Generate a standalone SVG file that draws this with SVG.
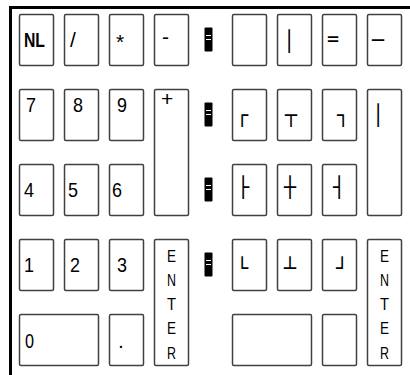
<svg xmlns="http://www.w3.org/2000/svg" width="410" height="375" viewBox="0 0 410 375">
<style>
.k{fill:#fff;stroke:#404040;stroke-width:1.5}
.t{font-family:"Liberation Sans",Arial,sans-serif;font-size:21px;fill:#000}
.b{font-family:"DejaVu Sans Mono","Liberation Mono",monospace;font-size:20px;fill:#000}
.e{font-family:"Liberation Sans",Arial,sans-serif;font-size:17px;fill:#000;text-anchor:middle}
.blk{fill:#000}
.wl{stroke:#fff;stroke-width:1}
</style>
<rect width="410" height="375" fill="#fff"/>
<g id="frame" stroke="#000" stroke-width="3">
<line x1="9" y1="7.5" x2="410" y2="7.5"/>
<line x1="10.5" y1="6" x2="10.5" y2="375"/>
</g>
<g id="connectors"></g>
<g id="key-nl"><rect class="k" x="19.5" y="14.5" width="34" height="51" rx="1.5"/><text class="t" x="24" y="47" font-size="20" font-weight="bold" textLength="21" lengthAdjust="spacingAndGlyphs">NL</text></g>
<g id="key-div"><rect class="k" x="64.5" y="14.5" width="34" height="51" rx="1.5"/><text class="t" x="70" y="47">/</text></g>
<g id="key-mul"><rect class="k" x="109.5" y="14.5" width="34" height="51" rx="1.5"/><text class="t" x="116" y="49">*</text></g>
<g id="key-sub"><rect class="k" x="154.5" y="14.5" width="34" height="51" rx="1.5"/><text class="t" x="162" y="44">-</text></g>
<g id="key-7"><rect class="k" x="19.5" y="89.5" width="34" height="51" rx="1.5"/><text class="t" x="26" y="112" textLength="10" lengthAdjust="spacingAndGlyphs">7</text></g>
<g id="key-8"><rect class="k" x="64.5" y="89.5" width="34" height="51" rx="1.5"/><text class="t" x="73" y="112" textLength="10" lengthAdjust="spacingAndGlyphs">8</text></g>
<g id="key-9"><rect class="k" x="109.5" y="89.5" width="34" height="51" rx="1.5"/><text class="t" x="117" y="112" textLength="10" lengthAdjust="spacingAndGlyphs">9</text></g>
<g id="key-add"><rect class="k" x="154.5" y="89.5" width="34" height="126" rx="1.5"/><text class="t" x="161" y="106" font-size="14">+</text></g>
<g id="key-4"><rect class="k" x="19.5" y="164.5" width="34" height="51" rx="1.5"/><text class="t" x="24" y="197" textLength="10" lengthAdjust="spacingAndGlyphs">4</text></g>
<g id="key-5"><rect class="k" x="64.5" y="164.5" width="34" height="51" rx="1.5"/><text class="t" x="68" y="197" textLength="10" lengthAdjust="spacingAndGlyphs">5</text></g>
<g id="key-6"><rect class="k" x="109.5" y="164.5" width="34" height="51" rx="1.5"/><text class="t" x="112" y="197" textLength="10" lengthAdjust="spacingAndGlyphs">6</text></g>
<g id="key-1"><rect class="k" x="19.5" y="239.5" width="34" height="51" rx="1.5"/><text class="t" x="24" y="272" textLength="10" lengthAdjust="spacingAndGlyphs">1</text></g>
<g id="key-2"><rect class="k" x="64.5" y="239.5" width="34" height="51" rx="1.5"/><text class="t" x="70" y="272" textLength="10" lengthAdjust="spacingAndGlyphs">2</text></g>
<g id="key-3"><rect class="k" x="109.5" y="239.5" width="34" height="51" rx="1.5"/><text class="t" x="117" y="272" textLength="10" lengthAdjust="spacingAndGlyphs">3</text></g>
<g id="key-enter-l"><rect class="k" x="154.5" y="239.5" width="34" height="126" rx="1.5"/><text class="e" x="171.5" y="262" textLength="9" lengthAdjust="spacingAndGlyphs">E</text><text class="e" x="171.5" y="286" textLength="9" lengthAdjust="spacingAndGlyphs">N</text><text class="e" x="171.5" y="310" textLength="9" lengthAdjust="spacingAndGlyphs">T</text><text class="e" x="171.5" y="334" textLength="9" lengthAdjust="spacingAndGlyphs">E</text><text class="e" x="171.5" y="359" textLength="9" lengthAdjust="spacingAndGlyphs">R</text></g>
<g id="key-0"><rect class="k" x="19.5" y="314.5" width="79" height="51" rx="1.5"/><text class="t" x="25" y="348" textLength="9" lengthAdjust="spacingAndGlyphs">0</text></g>
<g id="key-dot"><rect class="k" x="109.5" y="314.5" width="34" height="51" rx="1.5"/><text class="t" x="118" y="348">.</text></g>

<g id="sep-1"><rect class="blk" x="204.5" y="27.5" width="8" height="24" rx="1"/><line class="wl" x1="206" y1="35.5" x2="211" y2="35.5"/><line class="wl" x1="206" y1="39.5" x2="211" y2="39.5"/></g>
<g id="sep-2"><rect class="blk" x="204.5" y="102.5" width="8" height="24" rx="1"/><line class="wl" x1="206" y1="110.5" x2="211" y2="110.5"/><line class="wl" x1="206" y1="114.5" x2="211" y2="114.5"/></g>
<g id="sep-3"><rect class="blk" x="204.5" y="177.5" width="8" height="24" rx="1"/><line class="wl" x1="206" y1="185.5" x2="211" y2="185.5"/><line class="wl" x1="206" y1="189.5" x2="211" y2="189.5"/></g>
<g id="sep-4"><rect class="blk" x="204.5" y="252.5" width="8" height="24" rx="1"/><line class="wl" x1="206" y1="260.5" x2="211" y2="260.5"/><line class="wl" x1="206" y1="264.5" x2="211" y2="264.5"/></g>

<g id="key-r11"><rect class="k" x="232.5" y="14.5" width="34" height="51" rx="1.5"/></g>
<g id="key-r12"><rect class="k" x="277.5" y="14.5" width="34" height="51" rx="1.5"/><text class="b" x="283" y="48" font-size="17">│</text></g>
<g id="key-r13"><rect class="k" x="322.5" y="14.5" width="34" height="51" rx="1.5"/><text class="b" x="327" y="45" font-size="14">=</text></g>
<g id="key-r14"><rect class="k" x="367.5" y="14.5" width="34" height="51" rx="1.5"/><text class="b" x="372" y="47">─</text></g>
<g id="key-r21"><rect class="k" x="232.5" y="89.5" width="34" height="51" rx="1.5"/><text class="b" x="236" y="122">┌</text></g>
<g id="key-r22"><rect class="k" x="277.5" y="89.5" width="34" height="51" rx="1.5"/><text class="b" x="285" y="122">┬</text></g>
<g id="key-r23"><rect class="k" x="322.5" y="89.5" width="34" height="51" rx="1.5"/><text class="b" x="337" y="122">┐</text></g>
<g id="key-r24"><rect class="k" x="367.5" y="89.5" width="34" height="126" rx="1.5"/><text class="b" x="372" y="122">│</text></g>
<g id="key-r31"><rect class="k" x="232.5" y="164.5" width="34" height="51" rx="1.5"/><text class="b" x="237" y="194" font-size="16">├</text></g>
<g id="key-r32"><rect class="k" x="277.5" y="164.5" width="34" height="51" rx="1.5"/><text class="b" x="284" y="194" font-size="16">┼</text></g>
<g id="key-r33"><rect class="k" x="322.5" y="164.5" width="34" height="51" rx="1.5"/><text class="b" x="333" y="194" font-size="16">┤</text></g>
<g id="key-r41"><rect class="k" x="232.5" y="239.5" width="34" height="51" rx="1.5"/><text class="b" x="236" y="275">└</text></g>
<g id="key-r42"><rect class="k" x="277.5" y="239.5" width="34" height="51" rx="1.5"/><text class="b" x="284" y="275">┴</text></g>
<g id="key-r43"><rect class="k" x="322.5" y="239.5" width="34" height="51" rx="1.5"/><text class="b" x="336" y="275">┘</text></g>
<g id="key-enter-r"><rect class="k" x="367.5" y="239.5" width="34" height="126" rx="1.5"/><text class="e" x="384.5" y="262" textLength="9" lengthAdjust="spacingAndGlyphs">E</text><text class="e" x="384.5" y="286" textLength="9" lengthAdjust="spacingAndGlyphs">N</text><text class="e" x="384.5" y="310" textLength="9" lengthAdjust="spacingAndGlyphs">T</text><text class="e" x="384.5" y="334" textLength="9" lengthAdjust="spacingAndGlyphs">E</text><text class="e" x="384.5" y="359" textLength="9" lengthAdjust="spacingAndGlyphs">R</text></g>
<g id="key-r51"><rect class="k" x="232.5" y="314.5" width="79" height="51" rx="1.5"/></g>
<g id="key-r52"><rect class="k" x="322.5" y="314.5" width="34" height="51" rx="1.5"/></g>
</svg>
